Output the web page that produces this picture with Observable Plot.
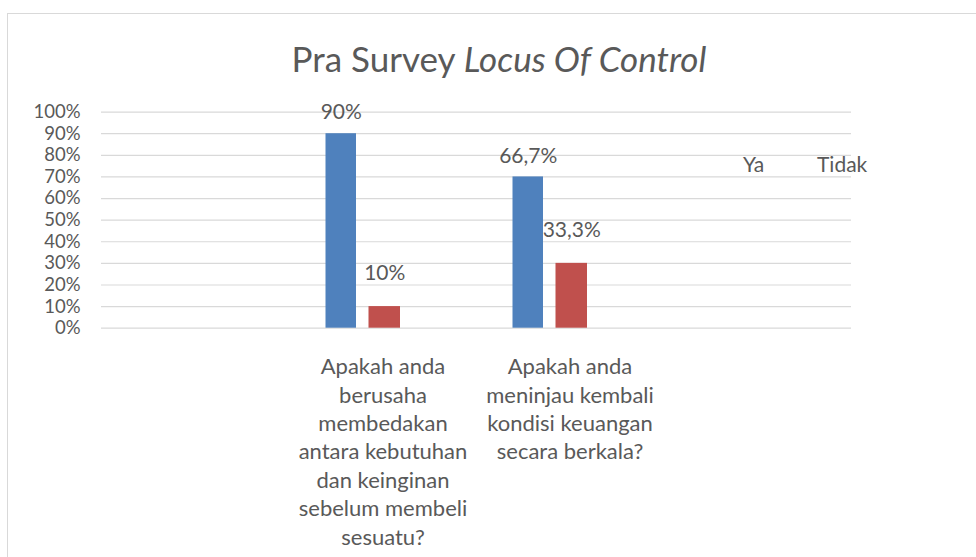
<!DOCTYPE html>
<html>
<head>
<meta charset="utf-8">
<script src="https://cdn.jsdelivr.net/npm/d3@7"></script>
<script src="https://cdn.jsdelivr.net/npm/@observablehq/plot@0.6"></script>
<style>
  body { margin: 0; background: #fff; font-family: Lato, "Open Sans", sans-serif; }
  #wrap { position: relative; width: 976px; height: 557px; overflow: hidden; background: #fff; }
  #frame { position: absolute; left: 7px; top: 13px; width: 1100px; height: 700px; border: 1.5px solid #d9d9d9; }
  #title { position: absolute; left: 0; width: 998px; top: 41px; text-align: center; font-size: 35px; line-height: 1; color: #595959; white-space: nowrap; }
  .leg { position: absolute; top: 153px; font-size: 21px; line-height: 1; color: #595959; }
  #chart { position: absolute; left: 0; top: 0; }
</style>
</head>
<body>
<div id="wrap">
  <div id="frame"></div>
  <div id="chart"></div>
  <div id="title">Pra Survey <i>Locus Of Control</i></div>
  <div class="leg" id="legYa" style="left:743px">Ya</div>
  <div class="leg" id="legTidak" style="left:817px">Tidak</div>
</div>
<script>
// ---- data ----
const questions = [
  "Apakah anda\nberusaha\nmembedakan\nantara kebutuhan\ndan keinginan\nsebelum membeli\nsesuatu?",
  "Apakah anda\nmeninjau kembali\nkondisi keuangan\nsecara berkala?"
];
const seriesNames = ["Ya", "Tidak"];
const yaValues = [90, 70];
const tidakValues = [10, 30];
const yaLabels = ["90%", "66,7%"];
const tidakLabels = ["10%", "33,3%"];
const yTicks = [0, 10, 20, 30, 40, 50, 60, 70, 80, 90, 100];
const yTickLabels = ["0%", "10%", "20%", "30%", "40%", "50%", "60%", "70%", "80%", "90%", "100%"];
const colors = ["#4f81bd", "#c0504d"];

// ---- tables ----
const ya = questions.map((q, i) => ({q, v: yaValues[i], label: yaLabels[i], s: seriesNames[0]}));
const tidak = questions.map((q, i) => ({q, v: tidakValues[i], label: tidakLabels[i], s: seriesNames[1]}));
const xDomain = ["__padStart", ...questions, "__padEnd"];

const textColor = "#595959";
const chart = Plot.plot({
  width: 976,
  height: 557,
  marginLeft: 101,
  marginRight: 125,
  marginTop: 111.6,
  marginBottom: 229.3,
  style: {fontFamily: "Lato, 'Open Sans', sans-serif", background: "transparent", overflow: "visible"},
  x: {type: "band", domain: xDomain, padding: 0, axis: null},
  y: {domain: [0, 100], axis: null},
  marks: [
    Plot.gridY(yTicks, {stroke: "#d9d9d9", strokeOpacity: 1, strokeWidth: 1.2}),
    Plot.axisY(yTicks, {
      tickSize: 0, tickPadding: 21, fontSize: 18.5, color: textColor, label: null,
      tickFormat: d => yTickLabels[yTicks.indexOf(d)]
    }),
    Plot.barY(ya, {x: "q", y: "v", fill: colors[0], insetLeft: 36.5, insetRight: 120}),
    Plot.barY(tidak, {x: "q", y: "v", fill: colors[1], insetLeft: 79.5, insetRight: 76}),
    Plot.text(ya, {x: "q", y: "v", text: "label", dx: -41.75, dy: -21, fontSize: 21, fill: textColor}),
    Plot.text(tidak, {x: "q", y: "v", text: "label", dx: 1.75, dy: -33, fontSize: 21, fill: textColor}),
    Plot.text(questions, {
      x: d => d, y: 0, text: d => d, lineAnchor: "top", dy: 26,
      fontSize: 22, lineHeight: 1.29, fill: textColor, textAnchor: "middle"
    })
  ]
});
document.getElementById("chart").appendChild(chart);
</script>
</body>
</html>
